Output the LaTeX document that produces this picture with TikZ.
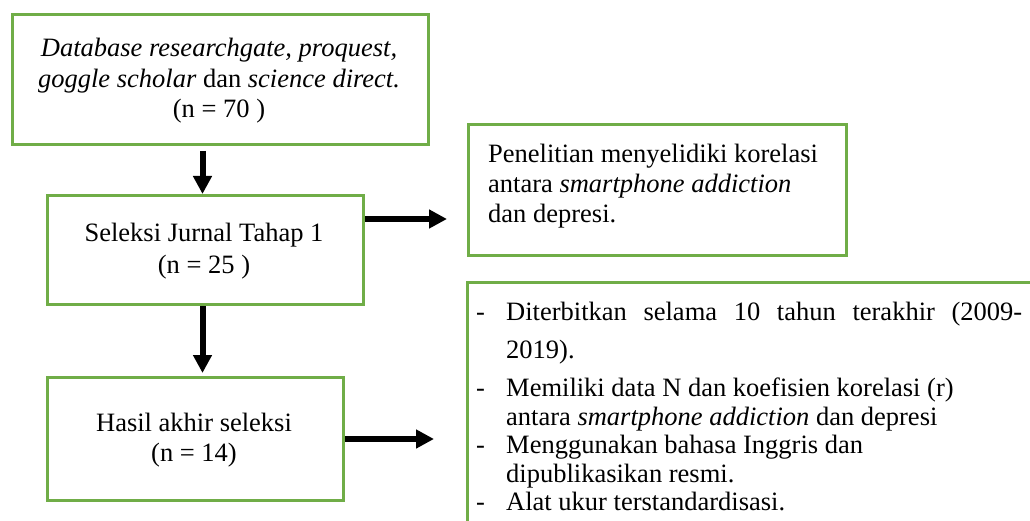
\documentclass[tikz,border=0pt]{standalone}
\usepackage{fontspec}
\setmainfont{Liberation Serif}
\usetikzlibrary{arrows.meta}
\definecolor{boxgreen}{HTML}{70AD47}
\begin{document}
\begin{tikzpicture}[x=1pt,y=-1pt,
  box/.style={draw=boxgreen, line width=3pt, inner sep=0pt, anchor=north west},
  txt/.style={inner sep=0pt, anchor=base, font=\fontsize{26.5}{30}\selectfont},
  ltxt/.style={txt, anchor=base west},
  arr/.style={line width=6pt, -{Triangle[length=18pt,width=18pt]}}]
\useasboundingbox (0,0) rectangle (1030,521);
\clip (0,0) rectangle (1030,521);
% boxes
\node[box, minimum width=416pt, minimum height=130pt] (b1) at (11,13) {};
\node[box, minimum width=316pt, minimum height=109pt] (b2) at (46,194) {};
\node[box, minimum width=296pt, minimum height=123pt] (b3) at (46,376) {};
\node[box, minimum width=378pt, minimum height=131pt] (b4) at (467,123) {};
\node[box, minimum width=579pt, minimum height=259pt] (b5) at (466,281) {};
% box 1 text
\node[txt] (t1a) at (219,57) {\textit{Database researchgate, proquest,}};
\node[txt] (t1b) at (219,88) {\textit{goggle scholar} dan \textit{science direct.}};
\node[txt] (t1c) at (219,118) {(n = 70 )};
% box 2 text
\node[txt] (t2a) at (204,242) {Seleksi Jurnal Tahap 1};
\node[txt] (t2b) at (204,273) {(n = 25 )};
% box 3 text
\node[txt] (t3a) at (194,431) {Hasil akhir seleksi};
\node[txt] (t3b) at (194,461) {(n = 14)};
% box 4 text
\node[ltxt] (t4a) at (488,163) {Penelitian menyelidiki korelasi};
\node[ltxt] (t4b) at (488,193) {antara \textit{smartphone addiction}};
\node[ltxt] (t4c) at (488,223) {dan depresi.};
% box 5 text
\node[ltxt] (d1) at (476,320) {-};
\node[ltxt] (t5a) at (506,320) {\makebox[516pt][s]{Diterbitkan selama 10 tahun terakhir (2009-}};
\node[ltxt] (t5b) at (506,358) {2019).};
\node[ltxt] (d2) at (476,396) {-};
\node[ltxt] (t5c) at (506,396) {Memiliki data N dan koefisien korelasi (r)};
\node[ltxt] (t5d) at (506,425) {antara \textit{smartphone addiction} dan depresi};
\node[ltxt] (d3) at (476,453) {-};
\node[ltxt] (t5e) at (506,453) {Menggunakan bahasa Inggris dan};
\node[ltxt] (t5f) at (506,482) {dipublikasikan resmi.};
\node[ltxt] (d4) at (476,510) {-};
\node[ltxt] (t5g) at (506,510) {Alat ukur terstandardisasi.};
% arrows
\coordinate (y1) at (0,219);
\draw[arr, shorten <=5pt] ([xshift=-3pt]b2.north |- b1.south) -- ([xshift=-3pt]b2.north);
\draw[arr, shorten >=3pt] ([xshift=-3pt]b2.south) -- ([xshift=-3pt]b2.south |- b3.north);
\draw[arr, shorten >=20pt] (b2.east |- y1) -- (b4.west |- y1);
\draw[arr, shorten >=32pt] (b3.east) -- (b3.east -| b5.west);
\end{tikzpicture}
\end{document}
